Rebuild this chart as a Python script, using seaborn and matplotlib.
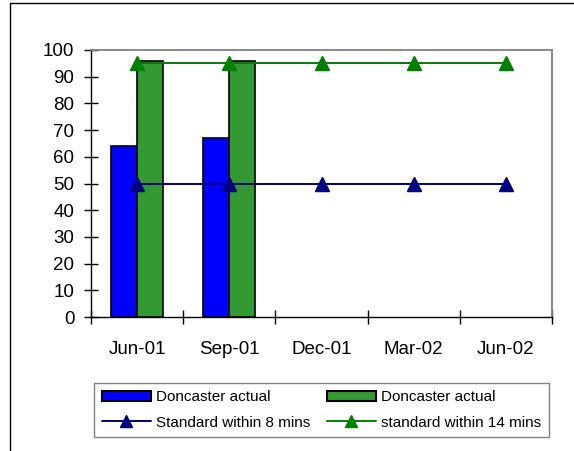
import matplotlib
matplotlib.use("Agg")
import matplotlib.pyplot as plt
import pandas as pd
import seaborn as sns
from matplotlib.patches import Patch
from matplotlib.lines import Line2D

# Chart values
quarters = ["Jun-01", "Sep-01", "Dec-01", "Mar-02", "Jun-02"]
bar_quarters = ["Jun-01", "Sep-01"]
actual_8 = [64, 67]
actual_14 = [96, 96]
standard_8 = [50, 50, 50, 50, 50]
standard_14 = [95, 95, 95, 95, 95]
y_ticks = list(range(0, 101, 10))
legend_labels = ["Doncaster actual", "Standard within 8 mins",
                 "Doncaster actual", "standard within 14 mins"]

sns.set_style("white")
plt.rcParams["font.family"] = ["Liberation Sans", "DejaVu Sans"]
plt.rcParams["text.color"] = "black"
plt.rcParams["xtick.color"] = "black"
plt.rcParams["ytick.color"] = "black"

BLUE, GREEN = "#0000ff", "#339933"
NAVY, DKGREEN = "#000080", "#008000"

bars = pd.DataFrame({
    "quarter": bar_quarters * 2,
    "value": actual_8 + actual_14,
    "series": ["a8"] * len(bar_quarters) + ["a14"] * len(bar_quarters),
})
lines = pd.DataFrame({
    "quarter": quarters * 2,
    "value": standard_8 + standard_14,
    "series": ["s8"] * len(quarters) + ["s14"] * len(quarters),
})

fig = plt.figure(figsize=(5.74, 4.51), dpi=100)
ax = fig.add_axes([91 / 574, 1 - 317 / 451, (552 - 91) / 574, (317 - 50) / 451])

sns.barplot(data=bars, x="quarter", y="value", hue="series", order=quarters,
            hue_order=["a8", "a14"], palette={"a8": BLUE, "a14": GREEN},
            width=0.565, edgecolor="black", linewidth=1.2, saturation=1,
            legend=False, ax=ax)

sns.pointplot(data=lines, x="quarter", y="value", hue="series", order=quarters,
              hue_order=["s8", "s14"], palette={"s8": NAVY, "s14": DKGREEN},
              markers="^", linestyles="-", errorbar=None, dodge=False,
              markersize=10, linewidth=1.4, legend=False, ax=ax)

ax.set_xlim(-0.5, len(quarters) - 0.5)
ax.set_ylim(0, 100)
ax.set_yticks(y_ticks)
ax.set_xlabel("")
ax.set_ylabel("")

ax.set_xticks([i - 0.5 for i in range(len(quarters) + 1)], minor=True)
ax.tick_params(axis="y", direction="inout", length=10, width=1, pad=7,
               labelsize=13.5, left=True)
ax.tick_params(axis="x", which="major", length=0, pad=17, labelsize=13.5)
ax.tick_params(axis="x", which="minor", direction="inout", length=10,
               width=1, bottom=True)

for side in ["left", "bottom"]:
    ax.spines[side].set_color("black")
    ax.spines[side].set_linewidth(1)
for side in ["top", "right"]:
    ax.spines[side].set_color("#808080")
    ax.spines[side].set_linewidth(1.3)

handles = [
    Patch(facecolor=BLUE, edgecolor="black", linewidth=1.5),
    Line2D([], [], color=NAVY, marker="^", markersize=8, linewidth=1.4),
    Patch(facecolor=GREEN, edgecolor="black", linewidth=1.5),
    Line2D([], [], color=DKGREEN, marker="^", markersize=8, linewidth=1.4),
]
leg = fig.legend(handles, legend_labels, ncol=2, loc="center",
                 bbox_to_anchor=(0.560, 0.0909), fontsize=11, frameon=True,
                 fancybox=False, edgecolor="#808080", framealpha=1,
                 handlelength=3.2, handleheight=0.66, handletextpad=0.33,
                 columnspacing=1.1, labelspacing=0.75, borderpad=0.5)
leg.get_frame().set_linewidth(1)

# outer chart border (left and top edges visible)
fig.add_artist(Line2D([10 / 574, 10 / 574], [0, 1 - 3 / 451],
                      transform=fig.transFigure, color="black", lw=1))
fig.add_artist(Line2D([10 / 574, 1], [1 - 3 / 451, 1 - 3 / 451],
                      transform=fig.transFigure, color="black", lw=1))

fig.savefig("out.png", dpi=100)
